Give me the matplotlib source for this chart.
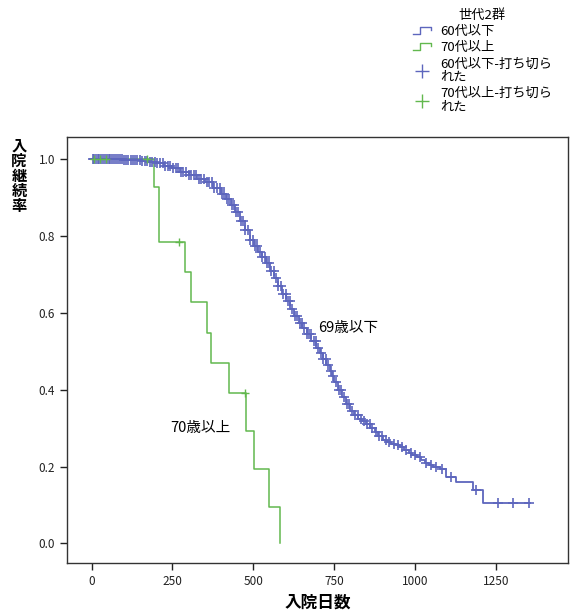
import matplotlib
matplotlib.use("Agg")
import matplotlib.pyplot as plt
import numpy as np
from matplotlib.lines import Line2D
from matplotlib.legend_handler import HandlerBase

plt.rcParams['font.family'] = ['Noto Sans CJK JP', 'DejaVu Sans']

# 60代以下 (69歳以下): KM steps
young_days = [0, 100, 150, 175, 200, 225, 250, 275, 300, 325, 350, 375, 400,
              415, 430, 445, 460, 475, 490, 502, 515, 527, 540, 552, 565, 577,
              590, 602, 615, 627, 640, 652, 665, 680, 695, 705, 715, 725, 736,
              743, 750, 762, 775, 787, 800, 812, 825, 837, 850, 862, 875, 887,
              900, 912, 925, 940, 955, 967, 980, 992, 1005, 1018, 1030, 1043,
              1056, 1077, 1097, 1128, 1180, 1211, 1355]
young_surv = [1.0, 0.999, 0.997, 0.994, 0.99, 0.984, 0.977, 0.968, 0.96, 0.95,
              0.94, 0.926, 0.91, 0.897, 0.88, 0.862, 0.84, 0.815, 0.79, 0.775,
              0.76, 0.745, 0.73, 0.71, 0.69, 0.67, 0.65, 0.63, 0.61, 0.593,
              0.575, 0.56, 0.545, 0.528, 0.51, 0.495, 0.48, 0.465, 0.45, 0.435,
              0.42, 0.40, 0.38, 0.362, 0.345, 0.335, 0.325, 0.318, 0.31, 0.30,
              0.29, 0.28, 0.27, 0.265, 0.26, 0.255, 0.25, 0.242, 0.235, 0.23,
              0.225, 0.218, 0.21, 0.205, 0.20, 0.195, 0.173, 0.16, 0.138,
              0.104, 0.104]
young_cens = [4, 9, 14, 19, 24, 30, 36, 41, 47, 53, 58, 64, 70, 76, 82, 88,
              94, 100, 107, 114, 121, 128, 135, 142, 149, 157, 165, 172, 180,
              188, 196, 204, 212, 220, 228, 236, 244, 252, 260, 268, 276, 284,
              292, 300, 308, 316, 324, 332, 340, 348, 356, 364, 372, 380, 388,
              396, 404, 411, 418, 425, 433, 440, 447, 454, 461, 468, 476, 483,
              491, 498, 505, 512, 520, 528, 535, 542, 549, 556, 563, 571, 578,
              585, 593, 600, 607, 614, 621, 629, 636, 643, 650, 658, 665, 672,
              679, 687, 694, 701, 709, 717, 724, 731, 739, 748, 756, 764, 772,
              780, 789, 797, 806, 815, 824, 833, 842, 851, 860, 868, 878, 888,
              898, 910, 920, 935, 948, 960, 972, 988, 1000, 1015, 1035, 1050,
              1065, 1085, 1110, 1190, 1257, 1304, 1353]

# 70代以上
old_days = [0, 192, 210, 288, 309, 356, 370, 424, 479, 501, 548, 582]
old_surv = [1.0, 0.927, 0.784, 0.706, 0.628, 0.549, 0.470, 0.391, 0.294,
            0.195, 0.096, 0.0]
old_cens = [8, 25, 45, 170, 272, 476]

blue = '#5d66bd'
green = '#62b84e'


def surv_at(days, surv, t):
    idx = np.searchsorted(days, t, side='right') - 1
    return np.array(surv)[idx]


class StepHandler(HandlerBase):
    def create_artists(self, legend, orig, xd, yd, width, height, fontsize, trans):
        xs = [0, 0.35, 0.35, 0.95, 0.95]
        ys = [0.1, 0.1, 0.9, 0.9, 0.55]
        line = Line2D([x * width for x in xs], [y * height for y in ys],
                      color=orig.get_color(), lw=1.0, transform=trans)
        return [line]


fig = plt.figure(figsize=(5.72, 6.15), dpi=100)
ax = fig.add_axes([0.117, 0.0846, 0.876, 0.6924])

l1, = ax.plot(young_days, young_surv, drawstyle='steps-post', color=blue, lw=1.3)
l2, = ax.plot(old_days, old_surv, drawstyle='steps-post', color=green, lw=1.1)
ax.plot(young_cens, surv_at(young_days, young_surv, young_cens), '+',
        color=blue, ms=6.5, mew=1.2, ls='none')
ax.plot(old_cens, surv_at(old_days, old_surv, old_cens), '+',
        color=green, ms=6, mew=1.0, ls='none')

ax.text(700, 0.56, '69歳以下', fontsize=10.5, va='center', ha='left')
ax.text(242, 0.30, '70歳以上', fontsize=10.5, va='center', ha='left')

ax.set_xlim(-76, 1473)
ax.set_ylim(-0.051, 1.058)
ax.set_xticks([0, 250, 500, 750, 1000, 1250])
ax.set_yticks([0.0, 0.2, 0.4, 0.6, 0.8, 1.0])
ax.set_yticklabels(['0.0', '0.2', '0.4', '0.6', '0.8', '1.0'])
ax.tick_params(direction='out', length=5, width=1, labelsize=8.5, colors='#222222')
for s in ax.spines.values():
    s.set_linewidth(1.0)
    s.set_color('#333333')

fig.text(0.555, 0.006, '入院日数', ha='center', va='bottom',
         fontsize=12, fontweight='bold')
fig.text(19 / 572, 1 - 138 / 615, '入\n院\n継\n続\n率', ha='center', va='top',
         fontsize=11, fontweight='bold', linespacing=0.92)

handles = [l1, l2,
           Line2D([], [], color=blue, marker='+', ls='none', ms=10, mew=1.0),
           Line2D([], [], color=green, marker='+', ls='none', ms=10, mew=1.0)]
labels = ['60代以下', '70代以上', '60代以下-打ち切ら\nれた', '70代以上-打ち切ら\nれた']
leg = fig.legend(handles, labels, loc='upper left',
                 bbox_to_anchor=(404 / 572, 1 - 0 / 615), frameon=False,
                 fontsize=9.5, title='世代2群', title_fontsize=9.5,
                 handlelength=1.5, handletextpad=0.6, labelspacing=0.25,
                 borderpad=0.15, handler_map={l1: StepHandler(), l2: StepHandler()})
for t in leg.get_texts():
    t.set_linespacing(1.05)

fig.savefig('out.png', dpi=100)
